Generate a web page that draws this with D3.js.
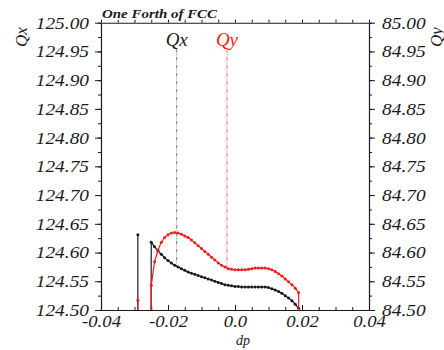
<!DOCTYPE html>
<html>
<head>
<meta charset="utf-8">
<script src="https://cdn.jsdelivr.net/npm/d3@7"></script>
<style>
  html, body { margin: 0; padding: 0; background: #fff; }
</style>
</head>
<body>
<div id="chart"></div>
<script>
// Tune shift vs momentum deviation — Qx (left axis) and Qy (right axis)

// momentum deviation dp of the main branch
const dpValues = [
  -0.025, -0.024, -0.023, -0.022, -0.021, -0.020, -0.019, -0.018, -0.017, -0.016,
  -0.015, -0.014, -0.013, -0.012, -0.011, -0.010, -0.009, -0.008, -0.007, -0.006,
  -0.005, -0.004, -0.003, -0.002, -0.001, 0.000, 0.001, 0.002, 0.003, 0.004,
  0.005, 0.006, 0.007, 0.008, 0.009, 0.010, 0.011, 0.012, 0.013, 0.014,
  0.015, 0.016, 0.017, 0.018, 0.019
];
const qxValues = [
  124.618, 124.610, 124.603, 124.597, 124.591, 124.586, 124.582, 124.578, 124.575, 124.572,
  124.569, 124.566, 124.564, 124.562, 124.560, 124.558, 124.556, 124.554, 124.552, 124.550,
  124.548, 124.546, 124.544, 124.543, 124.542, 124.541, 124.541, 124.540, 124.540, 124.540,
  124.540, 124.540, 124.540, 124.540, 124.540, 124.539, 124.537, 124.535, 124.532, 124.529,
  124.525, 124.521, 124.516, 124.510, 124.503
];
const qyValues = [
  84.543, 84.584, 84.604, 84.618, 84.626, 84.631, 84.634, 84.635, 84.634, 84.632,
  84.629, 84.626, 84.622, 84.617, 84.612, 84.607, 84.602, 84.597, 84.592, 84.587,
  84.582, 84.578, 84.575, 84.572, 84.571, 84.570, 84.570, 84.570, 84.570, 84.571,
  84.572, 84.573, 84.573, 84.573, 84.573, 84.572, 84.570, 84.567, 84.563, 84.559,
  84.554, 84.549, 84.544, 84.538, 84.530
];
// isolated points on the low side and the drop-outs below the axis (clipped)
const qxLead = [[-0.029, 124.631], [-0.029, 124.40], [-0.0251, 124.40]];
const qyLead = [[-0.029, 84.517], [-0.029, 84.40], [-0.0251, 84.40]];
const qyTail = [[0.019, 84.40]];

// working points marked by vertical lines
const qxMark = -0.0174;
const qyMark = -0.0024;

const xDomain = [-0.04, 0.04];
const qxDomain = [124.50, 125.00];
const qyDomain = [84.50, 85.00];
const xLabelTicks = [-0.04, -0.02, 0, 0.02, 0.04];
const xMinorTicks = d3.range(-40, 41, 5).map(d => d / 1000);
const yLabelTicksQx = d3.range(0, 11).map(i => 124.50 + i * 0.05);
const yLabelTicksQy = d3.range(0, 11).map(i => 84.50 + i * 0.05);

const W = 444, H = 350;
const M = { left: 101, right: 75, top: 22.7, bottom: 40 };
const PW = W - M.left - M.right;
const PH = H - M.top - M.bottom;

const serif = '"Liberation Serif", "Times New Roman", serif';
const RED = '#f01c1c';
const INK = '#1a1a1a';

const x = d3.scaleLinear().domain(xDomain).range([0, PW]);
const yQx = d3.scaleLinear().domain(qxDomain).range([PH, 0]);
const yQy = d3.scaleLinear().domain(qyDomain).range([PH, 0]);

const svg = d3.select('#chart').append('svg')
  .attr('width', W)
  .attr('height', H)
  .style('display', 'block');

// text in the source is wider than the installed serif: stretch it a bit
function stretch(sel, k) {
  sel.each(function() {
    const w = this.getComputedTextLength();
    d3.select(this).attr('textLength', w * k).attr('lengthAdjust', 'spacingAndGlyphs');
  });
}

const g = svg.append('g').attr('transform', `translate(${M.left},${M.top})`);

svg.append('defs').append('clipPath').attr('id', 'plot-clip')
  .append('rect').attr('width', PW).attr('height', PH);

function styleAxis(sel) {
  sel.select('.domain').attr('stroke', INK).attr('stroke-width', 1.1);
  sel.selectAll('.tick line').attr('stroke', INK).attr('stroke-width', 1);
  sel.selectAll('text')
    .attr('font-family', serif)
    .attr('font-style', 'italic')
    .attr('font-size', 17)
    .attr('fill', INK);
}

// bottom axis: ticks pointing up
const xMinor = g.append('g').attr('transform', `translate(0,${PH})`)
  .call(d3.axisBottom(x).tickValues(xMinorTicks).tickSize(-3).tickSizeOuter(0).tickFormat(''));
styleAxis(xMinor);
const xAxis = g.append('g').attr('transform', `translate(0,${PH})`)
  .call(d3.axisBottom(x).tickValues(xLabelTicks).tickSize(-5).tickSizeOuter(0).tickPadding(5)
    .tickFormat(d => d === 0 ? '0.0' : d.toFixed(2)));
styleAxis(xAxis);
stretch(xAxis.selectAll('text'), 1.1);

// top axis: ticks pointing up, no labels
const xTop = g.append('g')
  .call(d3.axisTop(x).tickValues(xMinorTicks).tickSize(3).tickSizeOuter(0).tickFormat(''));
styleAxis(xTop);

// left axis (Qx)
const yMinorL = g.append('g')
  .call(d3.axisLeft(yQx).tickValues(d3.range(0, 21).map(i => 124.50 + i * 0.025)).tickSize(3).tickSizeOuter(0).tickFormat(''));
styleAxis(yMinorL);
const yLeft = g.append('g')
  .call(d3.axisLeft(yQx).tickValues(yLabelTicksQx).tickSize(6).tickSizeOuter(0).tickPadding(6).tickFormat(d3.format('.2f')));
styleAxis(yLeft);
stretch(yLeft.selectAll('text'), 1.14);

// right axis (Qy)
const yMinorR = g.append('g').attr('transform', `translate(${PW},0)`)
  .call(d3.axisRight(yQy).tickValues(d3.range(0, 21).map(i => 84.50 + i * 0.025)).tickSize(3).tickSizeOuter(0).tickFormat(''));
styleAxis(yMinorR);
const yRight = g.append('g').attr('transform', `translate(${PW},0)`)
  .call(d3.axisRight(yQy).tickValues(yLabelTicksQy).tickSize(6).tickSizeOuter(0).tickPadding(7).tickFormat(d3.format('.2f')));
styleAxis(yRight);
stretch(yRight.selectAll('text'), 1.14);

// vertical marker lines
const markG = g.append('g');
markG.append('line')
  .attr('x1', x(qxMark)).attr('x2', x(qxMark))
  .attr('y1', 26).attr('y2', yQx(qxValues[dpValues.indexOf(-0.017)]))
  .attr('stroke', '#666').attr('stroke-width', 0.9).attr('stroke-dasharray', '4,1.5,1,1.5');
markG.append('line')
  .attr('x1', x(qyMark)).attr('x2', x(qyMark))
  .attr('y1', 26).attr('y2', yQy(qyValues[dpValues.indexOf(-0.002)]))
  .attr('stroke', '#f55').attr('stroke-width', 0.9).attr('stroke-dasharray', '4,1.5,1,1.5');

// series
const plot = g.append('g').attr('clip-path', 'url(#plot-clip)');
const qxPts = qxLead.concat(dpValues.map((d, i) => [d, qxValues[i]]));
const qyPts = qyLead.concat(dpValues.map((d, i) => [d, qyValues[i]]), qyTail);

function drawSeries(pts, yScale, color) {
  const line = d3.line().x(d => x(d[0])).y(d => yScale(d[1]));
  plot.append('path')
    .attr('d', line(pts))
    .attr('fill', 'none')
    .attr('stroke', color)
    .attr('stroke-width', 1.2);
  plot.selectAll(null).data(pts).enter().append('circle')
    .attr('cx', d => x(d[0]))
    .attr('cy', d => yScale(d[1]))
    .attr('r', 1.5)
    .attr('fill', color);
}
drawSeries(qxPts, yQx, INK);
drawSeries(qyPts, yQy, RED);

// labels
svg.append('text')
  .attr('x', M.left + 1).attr('y', 18)
  .attr('font-family', serif).attr('font-style', 'italic').attr('font-weight', 'bold')
  .attr('font-size', 13).attr('fill', INK)
  .text('One Forth of FCC')
  .call(stretch, 1.15);

svg.append('text')
  .attr('x', M.left + x(qxMark)).attr('y', 46)
  .attr('text-anchor', 'middle')
  .attr('font-family', serif).attr('font-style', 'italic')
  .attr('font-size', 19).attr('fill', INK)
  .text('Qx');
svg.append('text')
  .attr('x', M.left + x(qyMark)).attr('y', 46)
  .attr('text-anchor', 'middle')
  .attr('font-family', serif).attr('font-style', 'italic')
  .attr('font-size', 19).attr('fill', RED)
  .text('Qy');

svg.append('text')
  .attr('transform', 'translate(21,37) rotate(-90)')
  .attr('text-anchor', 'middle').attr('dominant-baseline', 'central')
  .attr('font-family', serif).attr('font-style', 'italic')
  .attr('font-size', 17).attr('fill', INK)
  .text('Qx');
svg.append('text')
  .attr('transform', 'translate(436,37) rotate(-90)')
  .attr('text-anchor', 'middle').attr('dominant-baseline', 'central')
  .attr('font-family', serif).attr('font-style', 'italic')
  .attr('font-size', 17).attr('fill', INK)
  .text('Qy');

svg.append('text')
  .attr('x', 243).attr('y', 345)
  .attr('text-anchor', 'middle')
  .attr('font-family', serif).attr('font-style', 'italic')
  .attr('font-size', 14).attr('fill', INK)
  .text('dp');
</script>
</body>
</html>
